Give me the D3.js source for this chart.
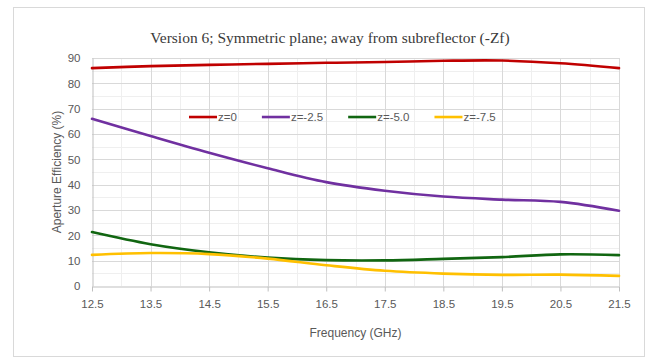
<!DOCTYPE html>
<html>
  <head>
    <meta charset="utf-8">
    <title>Aperture efficiency, version 6</title>
    <script src="https://d3js.org/d3.v7.min.js"></script>
    <style>
      body { margin: 0; background: #fff; }
      text { font-family: "Liberation Sans", Arial, sans-serif; fill: #595959; }
      .title { font-family: "Liberation Serif", "Times New Roman", serif; font-size: 15.5px; fill: #3a3a3a; }
      .tick text { font-size: 11.5px; }
      .axisTitle { font-size: 12px; }
      .legend text { font-size: 11.5px; }
      .plot { fill: none; stroke-width: 2.6; stroke-linecap: round; stroke-linejoin: round; }
    </style>
  </head>
  <body>
    <svg id="chart" width="654" height="358"></svg>
    <script>
      // chart data
      var freqs = [12.5, 13.5, 14.5, 15.5, 16.5, 17.5, 18.5, 19.5, 20.5, 21.5];
      var z0 = [86, 86.8, 87.3, 87.7, 88.1, 88.4, 88.9, 89.0, 87.9, 86];
      var z25 = [66, 59.2, 52.6, 46.5, 41, 37.6, 35.3, 34.1, 33.2, 29.7];
      var z50 = [21.3, 16.5, 13.3, 11.2, 10.2, 10.1, 10.7, 11.4, 12.5, 12.2];
      var z75 = [12.3, 13, 12.6, 10.8, 8.2, 6, 4.9, 4.4, 4.5, 4.0];
      var seriesNames = ["z=0", "z=-2.5", "z=-5.0", "z=-7.5"];
      var seriesValues = [z0, z25, z50, z75];
      var seriesColours = ["#c00000", "#7030a0", "#116611", "#ffc000"];
      var yTicks = [0, 10, 20, 30, 40, 50, 60, 70, 80, 90];

      // page elements
      var width = 654, height = 358;
      var margin = { top: 58, right: 35, bottom: 72, left: 92 };
      var chart = d3.select("#chart");

      // outer frame
      chart.append("rect")
        .attr("x", 13.5).attr("y", 7.5)
        .attr("width", 631).attr("height", 349)
        .attr("fill", "#fff")
        .attr("stroke", "#d9d9d9");

      // scales
      var x = d3.scaleLinear()
        .domain([12.5, 21.5])
        .range([margin.left, width - margin.right]);
      var y = d3.scaleLinear()
        .domain([0, 90])
        .range([height - margin.bottom, margin.top]);

      // minor gridlines
      var gridGroup = chart.append("g");
      gridGroup.selectAll(".vMinor")
        .data(d3.range(13, 21.5, 1))
        .enter().append("line")
          .attr("x1", function(d) { return Math.round(x(d)) + 0.5; })
          .attr("x2", function(d) { return Math.round(x(d)) + 0.5; })
          .attr("y1", y(0)).attr("y2", y(90))
          .attr("stroke", "#efefef");
      gridGroup.selectAll(".hMinor")
        .data(d3.range(5, 90, 10))
        .enter().append("line")
          .attr("y1", function(d) { return Math.round(y(d)) + 0.5; })
          .attr("y2", function(d) { return Math.round(y(d)) + 0.5; })
          .attr("x1", x(12.5)).attr("x2", x(21.5))
          .attr("stroke", "#efefef");
      // major gridlines
      gridGroup.selectAll(".vMajor")
        .data(freqs.slice(1))
        .enter().append("line")
          .attr("x1", function(d) { return Math.round(x(d)) + 0.5; })
          .attr("x2", function(d) { return Math.round(x(d)) + 0.5; })
          .attr("y1", y(0)).attr("y2", y(90))
          .attr("stroke", "#d9d9d9");
      gridGroup.selectAll(".hMajor")
        .data(yTicks.slice(1))
        .enter().append("line")
          .attr("y1", function(d) { return Math.round(y(d)) + 0.5; })
          .attr("y2", function(d) { return Math.round(y(d)) + 0.5; })
          .attr("x1", x(12.5)).attr("x2", x(21.5))
          .attr("stroke", "#d9d9d9");

      // axes
      var xAxis = d3.axisBottom(x)
        .tickValues(freqs)
        .tickFormat(d3.format(".1f"))
        .tickSizeInner(5)
        .tickSizeOuter(0)
        .tickPadding(8);
      var yAxis = d3.axisLeft(y)
        .tickValues(yTicks)
        .tickSizeInner(0)
        .tickSizeOuter(0)
        .tickPadding(12);
      var xAxisGroup = chart.append("g")
        .attr("transform", "translate(0," + (Math.round(y(0)) + 0.5) + ")")
        .call(xAxis);
      var yAxisGroup = chart.append("g")
        .attr("transform", "translate(" + (Math.round(x(12.5)) + 0.5) + ",0)")
        .call(yAxis);
      [xAxisGroup, yAxisGroup].forEach(function(g) {
        g.select(".domain").attr("stroke", "#bfbfbf");
        g.selectAll(".tick line").attr("stroke", "#bfbfbf");
        g.selectAll(".tick text").attr("fill", "#595959").attr("font-family", null).attr("font-size", null);
      });

      // lines
      var line = d3.line()
        .x(function(d, i) { return x(freqs[i]); })
        .y(function(d) { return y(d); })
        .curve(d3.curveCatmullRom.alpha(0.5));
      chart.append("g").selectAll(".plot")
        .data(seriesValues)
        .enter().append("path")
          .classed("plot", true)
          .attr("stroke", function(d, i) { return seriesColours[i]; })
          .attr("d", line);

      // legend
      var legend = chart.append("g")
        .classed("legend", true)
        .attr("transform", "translate(189," + y(66.7) + ")");
      var cursor = 0;
      seriesNames.forEach(function(name, i) {
        var item = legend.append("g").attr("transform", "translate(" + cursor + ",0)");
        item.append("line")
          .attr("x1", 0).attr("x2", 28)
          .attr("stroke", seriesColours[i])
          .attr("stroke-width", 2.6);
        var label = item.append("text")
          .attr("x", 29)
          .attr("dy", "0.35em")
          .text(name);
        cursor += 29 + label.node().getComputedTextLength() + 25;
      });

      // titles
      chart.append("text")
        .classed("title", true)
        .attr("x", 330)
        .attr("y", 43)
        .attr("text-anchor", "middle")
        .text("Version 6; Symmetric plane; away from subreflector (-Zf)");
      chart.append("text")
        .classed("axisTitle", true)
        .attr("x", (x(12.5) + x(21.5)) / 2)
        .attr("y", 337)
        .attr("text-anchor", "middle")
        .text("Frequency (GHz)");
      chart.append("text")
        .classed("axisTitle", true)
        .attr("transform", "translate(61," + (y(45)) + ") rotate(-90)")
        .attr("text-anchor", "middle")
        .text("Aperture Efficiency (%)");
    </script>
  </body>
</html>
